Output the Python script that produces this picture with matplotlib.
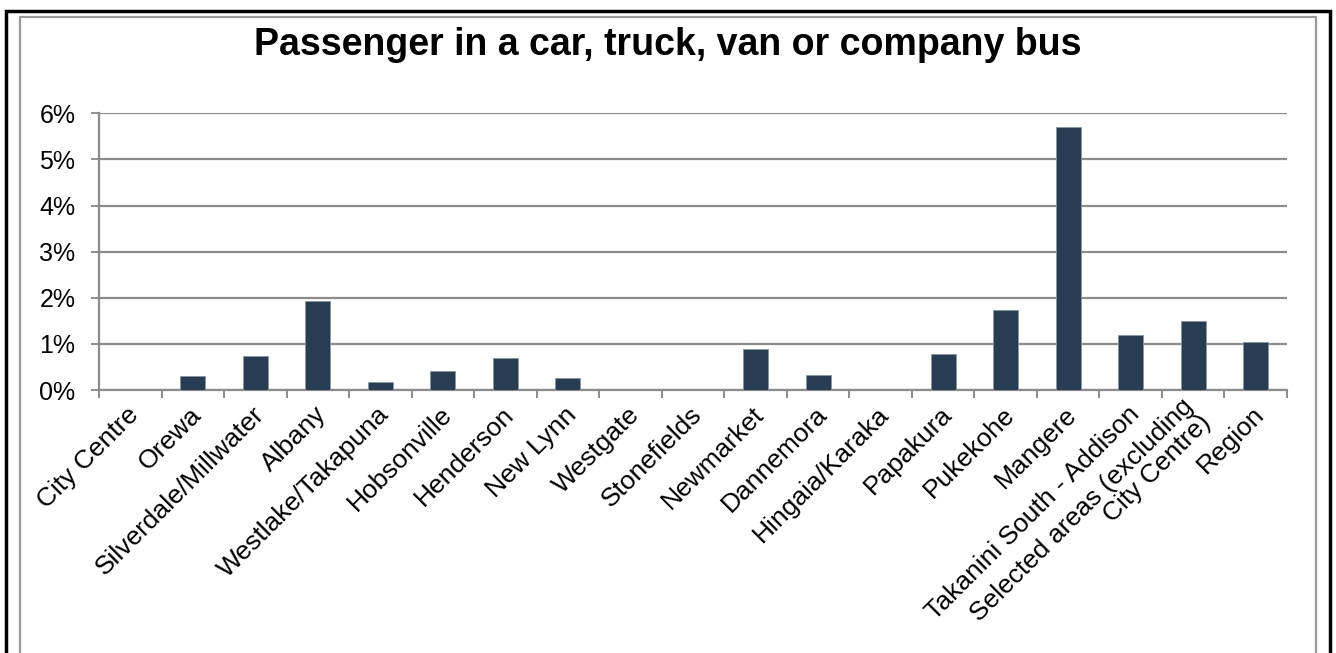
import matplotlib.pyplot as plt
from matplotlib.patches import Rectangle
from matplotlib.ticker import PercentFormatter, FixedLocator
import numpy as np

plt.rcParams['font.family'] = ['Liberation Sans', 'DejaVu Sans']

areas = ['City Centre', 'Orewa', 'Silverdale/Millwater', 'Albany', 'Westlake/Takapuna',
         'Hobsonville', 'Henderson', 'New Lynn', 'Westgate', 'Stonefields', 'Newmarket',
         'Dannemora', 'Hingaia/Karaka', 'Papakura', 'Pukekohe', 'Mangere',
         'Takanini South - Addison', 'Selected areas (excluding\nCity Centre)', 'Region']
share = [0.0, 0.31, 0.74, 1.92, 0.17, 0.41, 0.69, 0.27, 0.0, 0.0, 0.89,
         0.33, 0.0, 0.77, 1.73, 5.70, 1.20, 1.49, 1.03]

bar_col = '#283c52'
grid_col = '#8c8c8c'

fig = plt.figure(figsize=(13.36, 6.53), dpi=100)
ax = fig.add_axes([99/1336, 1 - 390/653, (1287 - 99)/1336, (390 - 113.3)/653])

x = np.arange(len(areas))
ax.bar(x, share, width=0.4, color=bar_col, edgecolor='#8796a8', linewidth=0.6, zorder=3)

ax.set_xlim(-0.5, len(areas) - 0.5)
ax.set_ylim(0, 6)
ax.set_yticks(range(7))
ax.yaxis.set_major_formatter(PercentFormatter(decimals=0))
ax.grid(axis='y', color=grid_col, linewidth=1.6, zorder=0)

# category boundaries carry the tick marks
ax.xaxis.set_major_locator(FixedLocator(np.arange(-0.5, len(areas), 1.0)))
ax.set_xticklabels([])
ax.tick_params(axis='x', length=6, width=1.4, color=grid_col, direction='out')
ax.tick_params(axis='y', length=6, width=1.4, color=grid_col, labelsize=18, pad=11)

for side in ['top', 'right']:
    ax.spines[side].set_visible(False)
for side in ['left', 'bottom']:
    ax.spines[side].set_color(grid_col)
    ax.spines[side].set_linewidth(1.6)

for i, name in enumerate(areas):
    ax.text(i + 0.08, -0.45, name, rotation=45, rotation_mode='anchor',
            ha='right', va='center', multialignment='right', fontsize=19,
            linespacing=1.0, transform=ax.transData, clip_on=False)

fig.text(0.5, 1 - 45/653, 'Passenger in a car, truck, van or company bus',
         ha='center', va='center', fontsize=27, fontweight='bold')

# outer black frame and grey chart-area frame
fig.patches.append(Rectangle((6/1336, -0.05), (1330 - 6)/1336, 1.05 - 11/653,
                             transform=fig.transFigure, fill=False,
                             edgecolor='black', linewidth=2.5))
fig.patches.append(Rectangle((20/1336, -0.05), (1316 - 20)/1336, 1.05 - 17/653,
                             transform=fig.transFigure, fill=False,
                             edgecolor='#9a9a9a', linewidth=1.6))

fig.savefig('out.png', dpi=100)
